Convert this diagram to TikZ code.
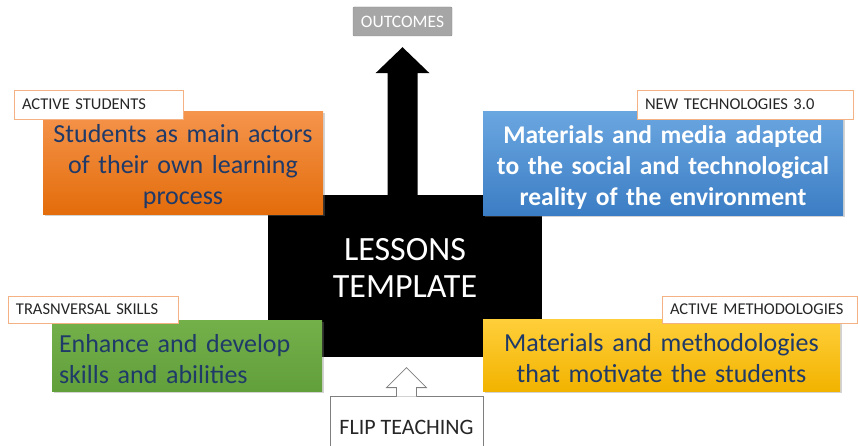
\documentclass[tikz,border=0pt]{standalone}
\usepackage{fontspec}
\setmainfont{Carlito}
\usetikzlibrary{calc,shadows}

\definecolor{orangetop}{HTML}{F5944C}
\definecolor{orangebot}{HTML}{E36C0A}
\definecolor{bluetop}{HTML}{6AA6E0}
\definecolor{bluebot}{HTML}{3B7DC4}
\definecolor{greentop}{HTML}{74B04A}
\definecolor{greenbot}{HTML}{62A03C}
\definecolor{yellowtop}{HTML}{FFCF3A}
\definecolor{yellowbot}{HTML}{F2B300}
\definecolor{navytext}{HTML}{1F3A68}
\definecolor{tagline}{HTML}{F4B183}
\definecolor{taggray}{HTML}{262626}
\definecolor{flipgray}{HTML}{7F7F7F}
\definecolor{outgray}{HTML}{A6A6A6}

% tight caps for the little tags
\newcommand{\tagfont}{\fontsize{16.5}{18}\selectfont\spaceskip=3pt plus 1pt\relax}

\begin{document}
\begin{tikzpicture}[x=1pt, y=-1pt,
    box/.style={inner ysep=0pt, align=center, text height=25pt,
      font=\fontsize{26}{31}\selectfont,
      drop shadow={opacity=.35, shadow xshift=1.5pt, shadow yshift=-1.5pt}},
    tag/.style={draw=tagline, fill=white, inner xsep=8pt, inner ysep=0pt,
      text width=#1, align=left, text=taggray, font=\tagfont}]
  \useasboundingbox (0,0) rectangle (858,446);

  % arrow up to the outcomes
  \node[fill=outgray, draw=outgray!85!black, rounded corners=1pt, minimum width=99pt,
    minimum height=29pt, inner sep=0pt, text=white, font=\fontsize{17.5}{19}\selectfont]
    (outcomes) at (402.5,21.5) {OUTCOMES};
  \coordinate (tip) at ($(outcomes.south)+(0,11)$);
  \fill (tip) -- ++(27,26) -- ++(-12,0) -- ++(0,122) -- ++(-30,0) -- ++(0,-122) -- ++(-12,0) -- cycle;

  \node[fill=black, minimum width=274pt, minimum height=162pt, inner xsep=12pt,
    text width=250pt, align=center, text height=23pt, text depth=55pt, text=white,
    font=\fontsize{34}{37}\selectfont] (lessons) at (405,276) {LESSONS\\TEMPLATE};

  % the four boxes round the template
  \node[box, top color=orangetop, bottom color=orangebot, text=navytext,
    text width=270pt, inner xsep=5pt, minimum height=103pt] (students) at (183,163.5)
    {Students as main actors\\of their own learning\\process};
  \node[box, top color=bluetop, bottom color=bluebot, text=white,
    text width=350pt, inner xsep=5pt, minimum height=104pt,
    font=\fontsize{25.5}{31}\selectfont\bfseries] (media) at (663,164)
    {Materials and media adapted\\to the social and technological\\reality of the environment};
  \node[box, top color=greentop, bottom color=greenbot, text=navytext, align=left,
    text width=256pt, inner xsep=7pt, minimum height=71pt] (skills) at (187,355.5)
    {Enhance and develop\\skills and abilities};
  \node[box, top color=yellowtop, bottom color=yellowbot, text=navytext,
    text width=345pt, inner xsep=6pt, minimum height=72pt] (methods) at (661.5,355)
    {Materials and methodologies\\that motivate the students};

  % small tags
  \node[tag=153pt, minimum height=29pt] (studtag) at (98.5,104.5) {ACTIVE STUDENTS};
  \node[tag=200pt, minimum height=29pt] (techtag) at (745,104.5) {NEW TECHNOLOGIES 3.0};
  \node[tag=154pt, minimum height=27pt] (skilltag) at (93,309.5) {TRASNVERSAL SKILLS};
  \node[tag=179pt, minimum height=27pt] (methtag) at (759.5,309.5) {ACTIVE METHODOLOGIES};

  % flip teaching pushing up
  \node[draw=flipgray, line width=0.8pt, fill=white, minimum width=153pt, minimum height=62pt,
    inner sep=0pt, text=taggray, font=\fontsize{22}{24}\selectfont] (flip) at (406.5,427) {FLIP TEACHING};
  \filldraw[draw=flipgray, line width=0.8pt, fill=white] ($(flip.north)+(-10,1)$) -- ++(0,-9) -- ++(-10,0)
    -- ++(20,-20) -- ++(20,20) -- ++(-10,0) -- ++(0,9);
\end{tikzpicture}
\end{document}
